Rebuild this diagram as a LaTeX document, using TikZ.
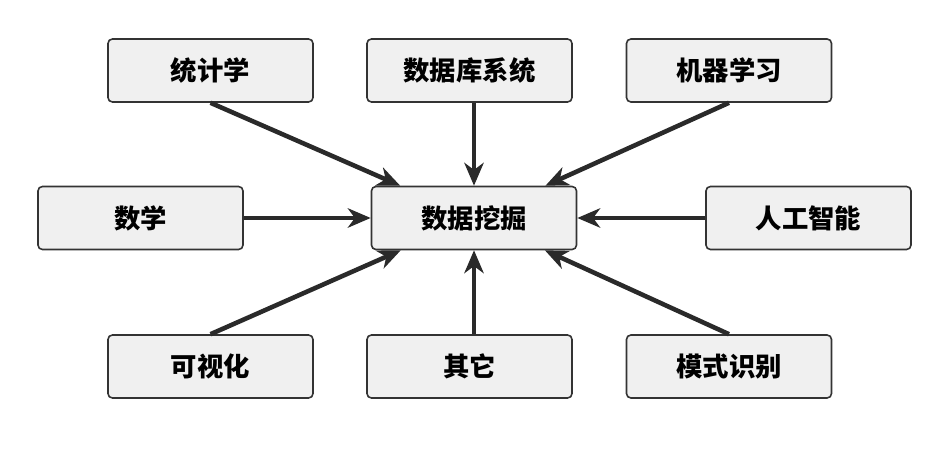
\documentclass[tikz,border=0pt]{standalone}
\usepackage{fontspec}
\newfontfamily\cjk{Noto Sans CJK SC}
\usepackage{tikz}
\usetikzlibrary{arrows.meta}
\definecolor{boxfill}{HTML}{F0F0F0}
\definecolor{boxline}{HTML}{333333}
\definecolor{arrowgray}{HTML}{2A2A2A}
\tikzset{
    field/.style={draw=boxline, line width=0.9pt, fill=boxfill, rounded corners=2.5pt,
        minimum width=4.1cm, minimum height=1.26cm, inner sep=0pt,
        font=\cjk\bfseries\fontsize{15}{18}\selectfont},
    feed/.style={draw=arrowgray, line width=2.6pt,
        -{Stealth[length=13pt, width=11pt, inset=4pt]}}
}

\begin{document}
\begin{tikzpicture}
    % Fix picture size
    \useasboundingbox (0,0) rectangle (18.74,9.04);

    % Center node
    \node[field] (dm) at (9.48,4.68) {数据挖掘};

    % Top row
    \node[field] (stat) at (4.21,7.63) {统计学};
    \node[field] (db) at (9.39,7.63) {数据库系统};
    \node[field] (ml) at (14.58,7.63) {机器学习};

    % Middle row
    \node[field] (math) at (2.81,4.68) {数学};
    \node[field] (ai) at (16.17,4.68) {人工智能};

    % Bottom row
    \node[field] (vis) at (4.21,1.71) {可视化};
    \node[field] (other) at (9.39,1.71) {其它};
    \node[field] (pr) at (14.58,1.71) {模式识别};

    % Arrows into the center
    \foreach \src/\anc in {stat/south, ml/south, vis/north, pr/north} {
        \draw[feed] (\src.\anc) -- (dm);
    }
    \draw[feed] (math) -- (dm);
    \draw[feed] (ai) -- (dm);
    \draw[feed] (db.south -| dm) -- (dm.north);
    \draw[feed] (other.north -| dm) -- (dm.south);
\end{tikzpicture}
\end{document}
